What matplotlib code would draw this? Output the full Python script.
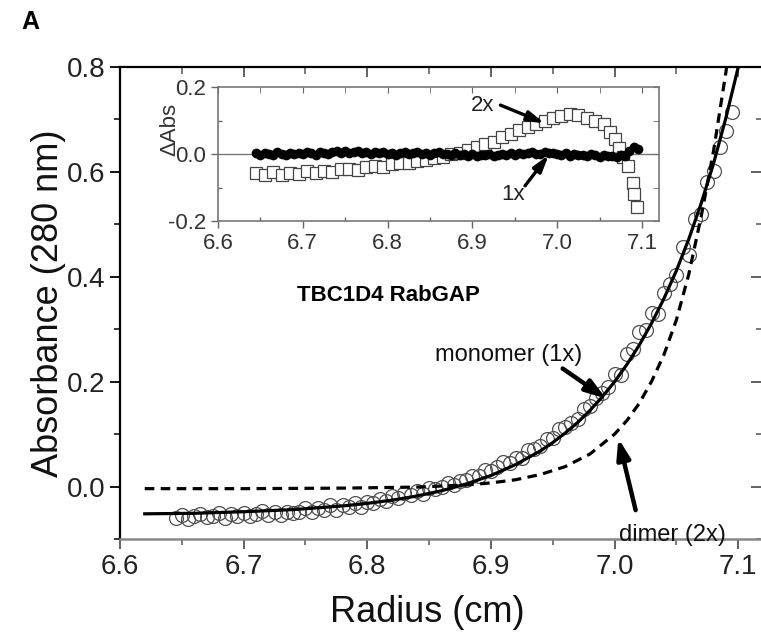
import numpy as np
import matplotlib
matplotlib.use("Agg")
import matplotlib.pyplot as plt
from matplotlib.ticker import MultipleLocator

plt.rcParams['font.family'] = ['Liberation Sans', 'DejaVu Sans']

# ---------------- data ----------------
# monomer absorbance scan (open circles)
radius = [6.645, 6.650, 6.655, 6.660, 6.665, 6.670, 6.675, 6.680, 6.685, 6.690,
          6.695, 6.700, 6.705, 6.710, 6.715, 6.720, 6.725, 6.730, 6.735, 6.740,
          6.745, 6.750, 6.755, 6.760, 6.765, 6.770, 6.775, 6.780, 6.785, 6.790,
          6.795, 6.800, 6.805, 6.810, 6.815, 6.820, 6.825, 6.830, 6.835, 6.840,
          6.845, 6.850, 6.855, 6.860, 6.865, 6.870, 6.875, 6.880, 6.885, 6.890,
          6.895, 6.900, 6.905, 6.910, 6.915, 6.920, 6.925, 6.930, 6.935, 6.940,
          6.945, 6.950, 6.955, 6.960, 6.965, 6.970, 6.975, 6.980, 6.985, 6.990,
          6.995, 7.000, 7.005, 7.010, 7.015, 7.020, 7.025, 7.030, 7.035, 7.040,
          7.045, 7.050, 7.055, 7.060, 7.065, 7.070, 7.075, 7.080, 7.085, 7.090,
          7.095]
absorbance = [-0.060, -0.054, -0.061, -0.056, -0.053, -0.059, -0.056, -0.051, -0.060, -0.053,
              -0.056, -0.050, -0.057, -0.052, -0.047, -0.054, -0.049, -0.055, -0.049, -0.050,
              -0.048, -0.041, -0.049, -0.041, -0.044, -0.036, -0.044, -0.036, -0.039, -0.031,
              -0.039, -0.030, -0.032, -0.024, -0.028, -0.018, -0.021, -0.012, -0.016, -0.009,
              -0.014, -0.002, -0.005, 0.000, 0.007, 0.003, 0.011, 0.012, 0.021, 0.021,
              0.031, 0.029, 0.038, 0.047, 0.045, 0.055, 0.055, 0.069, 0.072, 0.078,
              0.090, 0.092, 0.109, 0.114, 0.122, 0.128, 0.147, 0.154, 0.169, 0.178,
              0.190, 0.214, 0.213, 0.253, 0.263, 0.295, 0.298, 0.330, 0.329, 0.369,
              0.387, 0.404, 0.456, 0.442, 0.511, 0.520, 0.581, 0.602, 0.648, 0.678,
              0.715]

# monomer fit (solid line)
fit1_r = [6.62, 6.66, 6.70, 6.74, 6.78, 6.80, 6.82, 6.84, 6.86, 6.88, 6.90, 6.92,
          6.94, 6.95, 6.96, 6.97, 6.98, 6.99, 7.00, 7.01, 7.02, 7.03, 7.04, 7.05,
          7.06, 7.07, 7.08, 7.09, 7.10]
fit1_a = [-0.052, -0.051, -0.048, -0.044, -0.037, -0.032, -0.026, -0.018, -0.008, 0.005,
          0.021, 0.042, 0.068, 0.084, 0.102, 0.122, 0.145, 0.171, 0.200, 0.233,
          0.270, 0.312, 0.359, 0.412, 0.472, 0.540, 0.616, 0.703, 0.800]

# dimer model (dashed line)
fit2_r = [6.62, 6.70, 6.78, 6.84, 6.88, 6.90, 6.92, 6.94, 6.96, 6.98, 7.00, 7.01,
          7.02, 7.03, 7.04, 7.05, 7.06, 7.07, 7.08, 7.09, 7.095]
fit2_a = [-0.004, -0.004, -0.003, -0.001, 0.003, 0.007, 0.013, 0.023, 0.038, 0.062,
          0.100, 0.126, 0.159, 0.201, 0.252, 0.318, 0.405, 0.515, 0.640, 0.790, 0.885]

# residuals, monomer (1x, filled)
res1 = [0.002, -0.003, 0.004, 0.000, -0.002, 0.005, 0.001, -0.004, 0.003, 0.000,
        0.004, -0.001, 0.006, 0.002, -0.002, 0.007, 0.003, 0.000, 0.005, 0.008,
        0.004, 0.009, 0.002, 0.006, 0.010, 0.003, 0.007, 0.001, 0.005, 0.002,
        0.006, 0.000, 0.004, -0.002, 0.003, 0.005, -0.001, 0.002, 0.006, 0.000,
        0.003, -0.003, 0.002, 0.005, -0.001, 0.001, -0.004, 0.002, -0.002, 0.000,
        -0.005, -0.001, -0.006, -0.002, -0.004, 0.000, -0.007, -0.003, 0.001, -0.002,
        0.002, -0.002, 0.004, 0.000, 0.003, 0.006, 0.001, -0.001, 0.005, 0.002,
        0.004, 0.000, -0.003, 0.002, -0.005, 0.001, -0.004, -0.002, -0.006, 0.000,
        -0.004, -0.008, -0.003, -0.007, -0.005, -0.009, -0.004, -0.006, 0.008, 0.020,
        0.015]

# residuals, dimer (2x, open squares)
res2_r = [6.645, 6.655, 6.665, 6.675, 6.685, 6.695, 6.705, 6.715, 6.725, 6.735,
          6.745, 6.755, 6.765, 6.775, 6.785, 6.795, 6.805, 6.815, 6.825, 6.835,
          6.845, 6.855, 6.865, 6.875, 6.885, 6.895, 6.905, 6.915, 6.925, 6.935,
          6.945, 6.955, 6.965, 6.975, 6.985, 6.995, 7.005, 7.015, 7.025, 7.035,
          7.045, 7.055, 7.062, 7.068, 7.073, 7.078, 7.083, 7.089, 7.090, 7.094]
res2 = [-0.058, -0.062, -0.055, -0.064, -0.058, -0.060, -0.052, -0.057, -0.050, -0.054,
        -0.046, -0.044, -0.047, -0.040, -0.036, -0.038, -0.030, -0.026, -0.028, -0.020,
        -0.018, -0.012, -0.008, 0.000, 0.004, 0.012, 0.020, 0.030, 0.036, 0.050,
        0.060, 0.072, 0.082, 0.090, 0.100, 0.108, 0.114, 0.120, 0.116, 0.108,
        0.100, 0.090, 0.066, 0.045, 0.018, -0.008, -0.036, -0.088, -0.118, -0.158]

main_xticks = [6.6, 6.7, 6.8, 6.9, 7.0, 7.1]
main_yticks = [0.0, 0.2, 0.4, 0.6, 0.8]
inset_yticks = [-0.2, 0.0, 0.2]

# ---------------- figure ----------------
W, H = 761, 642
fig = plt.figure(figsize=(W / 100, H / 100), dpi=100)

def fx(px):
    return px / W

def fy(py):
    return 1 - py / H

ax = fig.add_axes([fx(120), fy(539), fx(763) - fx(120), fy(67) - fy(539)])
ax.set_xlim(6.6, 7.12)
ax.set_ylim(-0.1, 0.8)

ax.plot(radius, absorbance, 'o', mfc='none', mec='#505050', mew=0.9, ms=10, zorder=2)
ax.plot(fit1_r, fit1_a, '-', color='black', lw=2.3, zorder=3)
ax.plot(fit2_r, fit2_a, color='black', lw=2.3, ls=(0, (3.0, 2.0)), zorder=3)

ax.set_xticks(main_xticks)
ax.set_yticks(main_yticks)
ax.set_yticklabels([f"{v:.1f}" for v in main_yticks])
ax.xaxis.set_minor_locator(MultipleLocator(0.05))
ax.yaxis.set_minor_locator(MultipleLocator(0.1))
ax.tick_params(which='major', direction='out', length=7, width=1.3, labelsize=20,
               colors='black', labelcolor='#222222')
ax.tick_params(which='minor', direction='out', length=4, width=1.1)
ax.tick_params(axis='x', which='both', color='#555555')
for s in ['left', 'top']:
    ax.spines[s].set_linewidth(1.6)
    ax.spines[s].set_color('black')
ax.spines['bottom'].set_linewidth(1.8)
ax.spines['bottom'].set_color('#888888')
ax.spines['right'].set_visible(False)

top = ax.secondary_xaxis('top')
top.set_xticks(main_xticks)
top.xaxis.set_minor_locator(MultipleLocator(0.05))
top.tick_params(which='both', direction='in', labeltop=False, color='#555555')
top.tick_params(which='major', length=7, width=1.3)
top.tick_params(which='minor', length=5, width=1.1)
top.spines['top'].set_visible(False)

right = ax.secondary_yaxis('right')
right.set_yticks(main_yticks)
right.yaxis.set_minor_locator(MultipleLocator(0.1))
right.tick_params(which='both', direction='in', labelright=False, color='#555555')
right.tick_params(which='major', length=9, width=1.3)
right.tick_params(which='minor', length=5, width=1.1)
right.spines['right'].set_visible(False)

ax.set_xlabel('Radius (cm)', fontsize=26, color='#111111')
ax.xaxis.set_label_coords((427 - 120) / 643, -0.118)
ax.set_ylabel('Absorbance (280 nm)', fontsize=26, color='#111111')
ax.yaxis.set_label_coords((66 - 120) / 643, 0.5)

ax.text(6.817, 0.364, 'TBC1D4 RabGAP', fontsize=16, fontweight='bold',
        ha='center', va='center')
ax.text(6.914, 0.250, 'monomer (1x)', fontsize=17, ha='center', va='center', color='#111111')
ax.text(7.047, -0.093, 'dimer (2x)', fontsize=17, ha='center', va='center', color='#111111')

arrow = dict(arrowstyle='-|>,head_width=0.4,head_length=1.2', lw=3.2, color='black',
             shrinkA=0, shrinkB=0)
ax.annotate('', xy=(6.993, 0.168), xytext=(6.958, 0.225), arrowprops=arrow)
ax.annotate('', xy=(7.003, 0.092), xytext=(7.017, -0.045), arrowprops=arrow)

fig.text(0.040, 0.965, 'A', fontsize=18, fontweight='bold', ha='center', va='center')

# ---------------- inset ----------------
ins = fig.add_axes([fx(218), fy(221), fx(659) - fx(218), fy(87) - fy(221)])
ins.set_xlim(6.6, 7.12)
ins.set_ylim(-0.2, 0.2)
ins.axhline(0, color='#777777', lw=1.0, zorder=1)
ins.plot(res2_r, res2, 's', mfc='white', mec='#444444', mew=0.9, ms=8, zorder=2)
ins.plot(radius, res1, 'o', color='black', ms=7, mew=0, zorder=3)
ins.set_xticks(main_xticks)
ins.set_yticks(inset_yticks)
ins.set_yticklabels([f"{v:.1f}" for v in inset_yticks])
ins.xaxis.set_minor_locator(MultipleLocator(0.05))
ins.yaxis.set_minor_locator(MultipleLocator(0.1))
ins.tick_params(which='major', direction='out', length=5, width=1.0, labelsize=16,
                color='#666666', labelcolor='#333333')
ins.tick_params(which='minor', direction='in', length=3, width=1.0, color='#666666')
for s in ins.spines.values():
    s.set_color('#777777')
    s.set_linewidth(1.2)
itop = ins.secondary_xaxis('top')
itop.set_xticks(main_xticks)
itop.xaxis.set_minor_locator(MultipleLocator(0.05))
itop.tick_params(which='both', direction='in', labeltop=False, color='#666666', length=4)
itop.spines['top'].set_visible(False)
iright = ins.secondary_yaxis('right')
iright.set_yticks(inset_yticks)
iright.yaxis.set_minor_locator(MultipleLocator(0.1))
iright.tick_params(which='both', direction='in', labelright=False, color='#666666', length=4)
iright.spines['right'].set_visible(False)

ins.set_ylabel('\u0394Abs', fontsize=16, color='#333333')
ins.yaxis.set_label_coords(-0.085, 0.68)

iarrow = dict(arrowstyle='-|>,head_width=0.3,head_length=1.0', lw=2.4, color='black',
              shrinkA=0, shrinkB=0)
ins.text(6.912, 0.146, '2x', fontsize=16, color='#222222', ha='center', va='center')
ins.annotate('', xy=(6.985, 0.092), xytext=(6.933, 0.146), arrowprops=iarrow)
ins.text(6.948, -0.122, '1x', fontsize=16, color='#222222', ha='center', va='center')
ins.annotate('', xy=(6.990, -0.003), xytext=(6.962, -0.095), arrowprops=iarrow)

fig.savefig('out.png', dpi=100)
